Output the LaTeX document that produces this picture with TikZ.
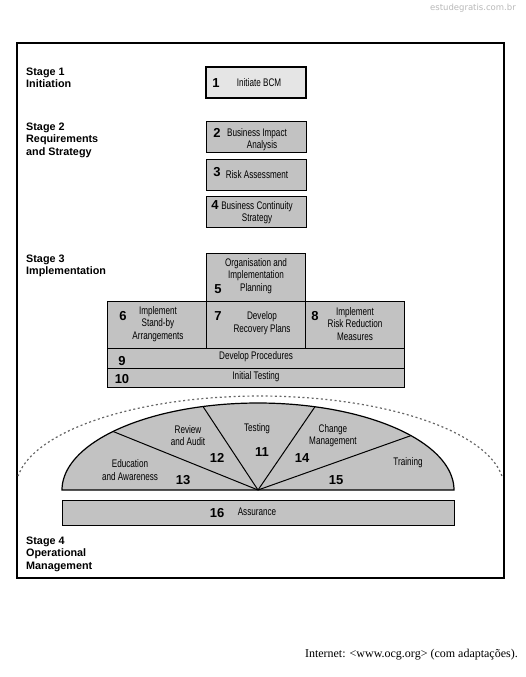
\documentclass[tikz,border=0pt]{standalone}
\usepackage{fontspec}
\setmainfont{Liberation Sans}
\newfontfamily\condf[FakeStretch=0.74]{Liberation Sans}
\newfontfamily\serf{Liberation Serif}
\newfontfamily\wmf{DejaVu Sans}
\definecolor{boxgray}{gray}{0.76}
\definecolor{lightbox}{gray}{0.90}
\definecolor{dotgray}{gray}{0.40}
\begin{document}
\begin{tikzpicture}[x=1pt,y=-1pt,
  box/.style={draw, line width=1pt, fill=boxgray, inner sep=0pt},
  btxt/.style={font=\condf\fontsize{11}{12.5}\selectfont, align=center, inner sep=0pt},
  num/.style={font=\bfseries\fontsize{13}{13}\selectfont, inner sep=0pt},
  stg/.style={font=\bfseries\fontsize{10.8}{12.5}\selectfont, align=left, anchor=west, inner sep=0pt},
  divline/.style={line width=1pt},
  dotarc/.style={dotgray, line width=1.2pt, dash pattern=on 2pt off 2.6pt}]
\useasboundingbox (0,0) rectangle (525,677);
\fill[white] (0,0) rectangle (525,677);

% watermark
\node[font=\wmf\fontsize{8.5}{10}\selectfont, text=gray!55, anchor=east, inner sep=0pt] (wm) at (516,8) {estudegratis.com.br};

% frame
\node[draw, line width=2pt, minimum width=487pt, minimum height=535pt, inner sep=0pt] (frame) at (260.5,310.5) {};

% stage labels
\node[stg] (s1) at (26,78) {Stage 1\\Initiation};
\node[stg] (s2) at (26,140) {Stage 2\\Requirements\\and Strategy};
\node[stg] (s3) at (26,266) {Stage 3\\Implementation};
\node[stg] (s4) at (26,554) {Stage 4\\Operational\\Management};

% stage 1 and 2 boxes
\node[box, fill=lightbox, line width=1.3pt, minimum width=100pt, minimum height=31pt] (b1) at (256,82.5) {};
\node[box, minimum width=100pt, minimum height=31pt] (b2) at (256,136.5) {};
\node[box, minimum width=100pt, minimum height=31pt] (b3) at (256,174.5) {};
\node[box, minimum width=100pt, minimum height=31pt] (b4) at (256,211.5) {};

\node[num] (n1) at (216,83) {1};
\node[btxt] (t1) at (259,83) {Initiate BCM};
\node[num] (n2) at (217,133) {2};
\node[btxt] (t2) at (257,139.5) {Business Impact\\\hspace*{10pt}Analysis};
\node[num] (n3) at (217,172) {3};
\node[btxt] (t3) at (257,175) {Risk Assessment};
\node[num] (n4) at (215,205) {4};
\node[btxt] (t4) at (257,212.5) {Business Continuity\\Strategy};

% stage 3 boxes
\node[box, minimum width=99pt, minimum height=48pt] (b5) at (255.5,277) {};
\node[box, minimum width=99pt, minimum height=47pt] (b6) at (156.5,324.5) {};
\node[box, minimum width=99pt, minimum height=47pt] (b7) at (255.5,324.5) {};
\node[box, minimum width=99pt, minimum height=47pt] (b8) at (354.5,324.5) {};
\node[box, minimum width=297pt, minimum height=20pt] (b9) at (255.5,358) {};
\node[box, minimum width=297pt, minimum height=19pt] (b10) at (255.5,377.5) {};

\node[btxt] (t5) at (256,276) {Organisation and\\Implementation\\Planning};
\node[num] (n5) at (218,289) {5};
\node[num] (n6) at (123,316) {6};
\node[btxt] (t6) at (158,324) {Implement\\Stand-by\\Arrangements};
\node[num] (n7) at (218,316) {7};
\node[btxt] (t7) at (262,323) {Develop\\Recovery Plans};
\node[num] (n8) at (315,316) {8};
\node[btxt] (t8) at (355,324) {Implement\\Risk Reduction\\Measures};
\node[btxt] (t9) at (256,357) {Develop Procedures};
\node[num] (n9) at (122,361) {9};
\node[btxt] (t10) at (256,377) {Initial Testing};
\node[num] (n10) at (122,379) {10};

% stage 4: dotted arc
\draw[dotarc] plot[domain=7.5:172.5, samples=90] ({260+244*cos(\x)},{488-92*sin(\x)});

% half ellipse
\coordinate (hc) at (258,490);
\coordinate (hl) at (62,490);
\coordinate (hr) at (454,490);
\filldraw[fill=boxgray, line width=1.2pt] (hl) -- plot[domain=180:0, samples=120] ({258+196*cos(\x)},{490-87*sin(\x)}) -- cycle;
\coordinate (e1) at ({258+196*cos(137.7)},{490-87*sin(137.7)});
\coordinate (e2) at ({258+196*cos(106.3)},{490-87*sin(106.3)});
\coordinate (e3) at ({258+196*cos(73.1)},{490-87*sin(73.1)});
\coordinate (e4) at ({258+196*cos(38.7)},{490-87*sin(38.7)});
\draw[divline] (hc) -- (e1);
\draw[divline] (hc) -- (e2);
\draw[divline] (hc) -- (e3);
\draw[divline] (hc) -- (e4);

\node[btxt] (t13) at (130,470) {Education\\and Awareness};
\node[num] (n13) at (183,480) {13};
\node[btxt] (t12) at (188,435.5) {Review\\and Audit};
\node[num] (n12) at (217,458) {12};
\node[btxt] (t11) at (257,429) {Testing};
\node[num] (n11) at (262,452) {11};
\node[btxt] (t14) at (333,435.5) {Change\\Management};
\node[num] (n14) at (302,458) {14};
\node[btxt] (t15) at (408,463) {Training};
\node[num] (n15) at (336,480) {15};

% assurance
\node[box, minimum width=392pt, minimum height=25pt] (b16) at (258,512.5) {};
\node[num] (n16) at (217,513) {16};
\node[btxt] (t16) at (257,512) {Assurance};

% citation
\node[font=\serf\fontsize{12}{14}\selectfont, anchor=east, inner sep=0pt] (cit) at (518,655) {Internet: <www.ocg.org> (com adaptações).};
\end{tikzpicture}
\end{document}
